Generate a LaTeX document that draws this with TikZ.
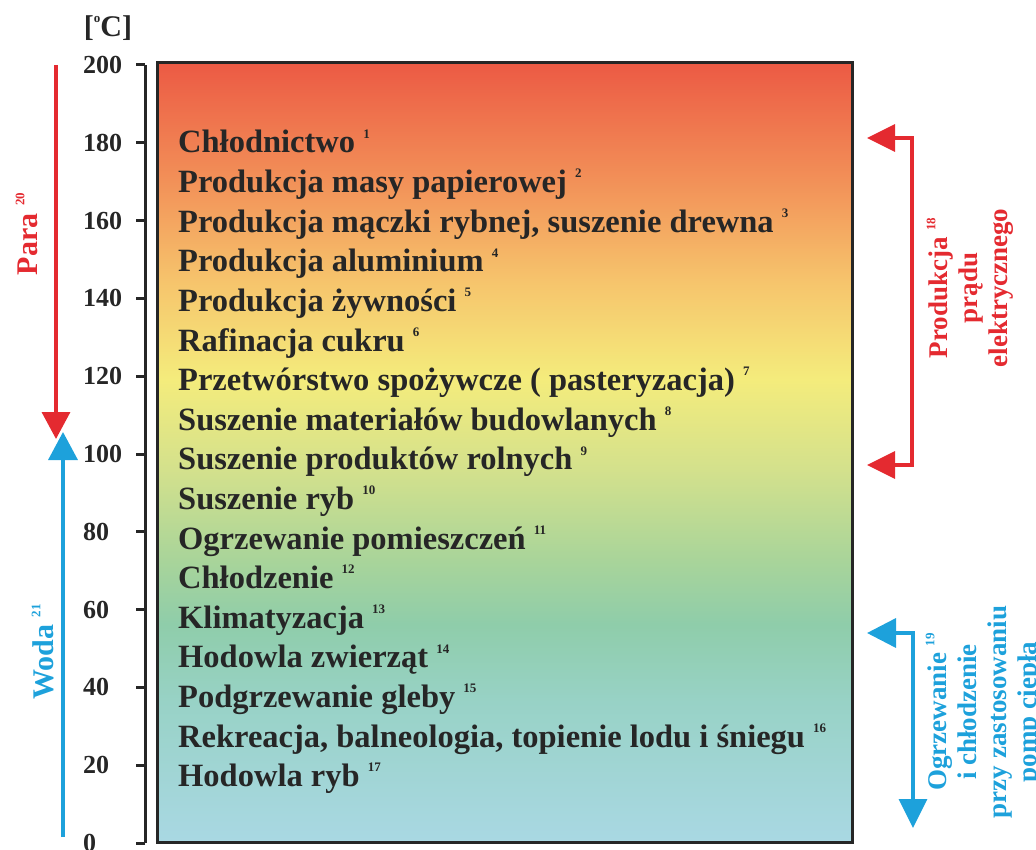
\documentclass[tikz,border=0pt]{standalone}
\usepackage{fontspec}
\setmainfont{Liberation Serif}
\usepackage{tikz}
\usetikzlibrary{arrows.meta,positioning}

\definecolor{ink}{HTML}{262626}
\definecolor{paraRed}{HTML}{E42A30}
\definecolor{wodaBlue}{HTML}{1DA1DB}
\definecolor{s0}{HTML}{A9D8E3}
\definecolor{s1}{HTML}{98D2C6}
\definecolor{s2}{HTML}{8FCDAA}
\definecolor{s3}{HTML}{A8D49A}
\definecolor{s4}{HTML}{D4E18C}
\definecolor{s5}{HTML}{F4EC7C}
\definecolor{s6}{HTML}{F6C46C}
\definecolor{s7}{HTML}{F29058}
\definecolor{s8}{HTML}{EC5A44}

\pgfdeclareverticalshading{thermo}{100bp}{color(0bp)=(s0); color(25bp)=(s0);
  color(34bp)=(s1); color(39bp)=(s2); color(43bp)=(s3); color(49bp)=(s4);
  color(54.7bp)=(s5); color(61bp)=(s6); color(67.5bp)=(s7); color(75bp)=(s8);
  color(100bp)=(s8)}

\newcommand{\sups}[1]{\raisebox{0.45em}{\fontsize{13}{13}\selectfont\bfseries #1}}

\tikzstyle{panel}=[
    shading=thermo,
    draw=ink,
    line width=3pt
]
\tikzstyle{axline}=[
    draw=ink,
    line width=3pt
]
\tikzstyle{axtick}=[
    draw=ink,
    line width=3pt
]
\tikzstyle{ticklabel}=[
    anchor=west,
    inner sep=0pt,
    text=ink,
    font=\fontsize{26}{26}\selectfont\bfseries
]
\tikzstyle{item}=[
    inner sep=0pt,
    text height=22pt,
    text depth=8pt,
    text=ink,
    font=\fontsize{32.5}{36}\selectfont\bfseries
]
\tikzstyle{sidelabel}=[
    rotate=90,
    inner sep=0pt,
    font=\fontsize{30}{30}\selectfont\bfseries
]
\tikzstyle{notelabel}=[
    rotate=90,
    inner sep=0pt,
    align=center,
    font=\fontsize{27}{30}\selectfont\bfseries
]
\tikzstyle{redarrow}=[
    draw=paraRed,
    line width=3.5pt,
    -{Triangle[length=27pt,width=28pt]}
]
\tikzstyle{bluearrow}=[
    draw=wodaBlue,
    line width=3.5pt,
    -{Triangle[length=28pt,width=29pt]}
]
\tikzstyle{redbracket}=[
    draw=paraRed,
    line width=3.5pt,
    {Triangle[length=28pt,width=27pt]}-{Triangle[length=28pt,width=27pt]}
]
\tikzstyle{bluebracket}=[
    draw=wodaBlue,
    line width=3.5pt,
    {Triangle[length=29pt,width=29pt]}-{Triangle[length=29pt,width=28pt]}
]

\begin{document}
\begin{tikzpicture}[x=1pt, y=-1pt, node distance=9.2pt]
\useasboundingbox (0,0) rectangle (1036,850);

% colour panel
\draw[panel] (157,63) rectangle (852,842);

% temperature axis
\foreach \t in {0,20,...,200} {
    \coordinate (t\t) at (145,{843-3.89*\t});
    \draw[axtick] (t\t) -- ++(-9,0);
    \node[ticklabel] (lbl\t) at ([xshift=-62pt]t\t) {\t};
}
\draw[axline] (t0) -- (t200);
\node[text=ink, inner sep=0pt, font=\fontsize{30}{30}\selectfont\bfseries] (unit) at (108,28) {[\sups{o}C]};

% uses
\node[item, anchor=base west] (i1) at (178,153) {Chłodnictwo \sups{1}};
\foreach \n/\txt [evaluate=\n as \p using int(\n-1)] in {
    2/{Produkcja masy papierowej \sups{2}},
    3/{Produkcja mączki rybnej, suszenie drewna \sups{3}},
    4/{Produkcja aluminium \sups{4}},
    5/{Produkcja żywności \sups{5}},
    6/{Rafinacja cukru \sups{6}},
    7/{Przetwórstwo spożywcze ( pasteryzacja) \sups{7}},
    8/{Suszenie materiałów budowlanych \sups{8}},
    9/{Suszenie produktów rolnych \sups{9}},
    10/{Suszenie ryb \sups{10}},
    11/{Ogrzewanie pomieszczeń \sups{11}},
    12/{Chłodzenie \sups{12}},
    13/{Klimatyzacja \sups{13}},
    14/{Hodowla zwierząt \sups{14}},
    15/{Podgrzewanie gleby \sups{15}},
    16/{Rekreacja, balneologia, topienie lodu i śniegu \sups{16}},
    17/{Hodowla ryb \sups{17}}} {
    \node[item, below=of i\p.south west, anchor=north west] (i\n) {\txt};
}

% steam and water
\coordinate (paraStart) at (56,65);
\coordinate (paraEnd) at (56,439);
\coordinate (wodaStart) at (63,837);
\coordinate (wodaEnd) at (63,432);
\draw[redarrow] (paraStart) -- (paraEnd);
\draw[bluearrow] (wodaStart) -- (wodaEnd);
\node[sidelabel, text=paraRed] (para) at (27,234) {Para \sups{20}};
\node[sidelabel, text=wodaBlue] (woda) at (43,652) {Woda \sups{21}};

% right brackets
\coordinate (pTop) at (867,138);
\coordinate (pBot) at (867,465);
\coordinate (oTop) at (867,633);
\coordinate (oBot) at (913,828);
\draw[redbracket] (pTop) -- ++(45,0) |- (pBot);
\draw[bluebracket] (oTop) -- ++(46,0) -- (oBot);
\node[notelabel, text=paraRed] (prad) at (970,288) {Produkcja \sups{18}\\prądu\\elektrycznego};
\node[notelabel, text=wodaBlue] (pompy) at (984,712) {Ogrzewanie \sups{19}\\i chłodzenie\\przy zastosowaniu\\pomp ciepła};
\end{tikzpicture}
\end{document}
